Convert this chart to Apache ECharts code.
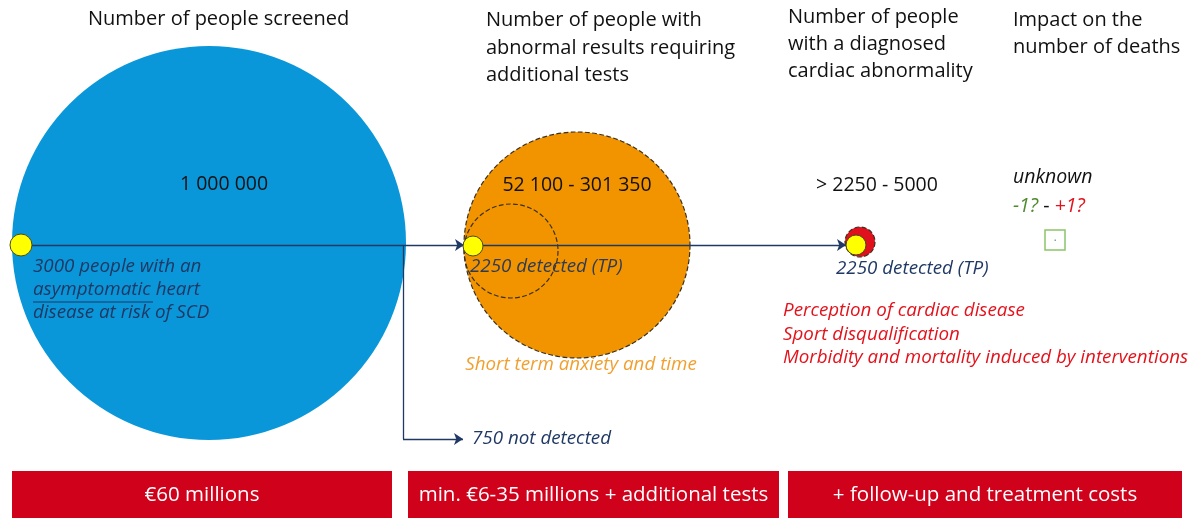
<!DOCTYPE html>
<html>
<head>
<meta charset="utf-8">
<script src="https://cdn.jsdelivr.net/npm/echarts@6/dist/echarts.min.js"></script>
<style>
  html, body { margin: 0; padding: 0; background: #fff; }
  #chart { width: 1204px; height: 518px; }
</style>
</head>
<body>
<div id="chart"></div>
<script>
// layout space: hidden axes mapped 1:1 onto the page
const xMax = 1204
const yMax = 518

// population circles (centre and diameter in layout units)
const circleNames = ['screened', 'abnormal results', 'true positives', 'diagnosed']
const circleX = [209, 577, 511, 860]
const circleY = [243, 245, 251, 242]
const circleDiam = [394, 226, 94, 30]
const circleColor = ['#0A97D9', '#F29400', 'rgba(0,0,0,0)', '#E0101C']
const circleBorder = [null, 'dashed', 'dashed', 'dashed']

// people with asymptomatic disease (yellow markers)
const dotX = [21, 473, 856]
const dotY = [245, 246, 245]
const dotDiam = [22, 20, 20]

// flow arrows: [path, has arrow head]
const arrowPaths = [
  [[21, 245], [464, 245]],
  [[473, 245], [846, 245]],
  [[403, 245], [403, 439]],
  [[403, 439], [463, 439]]
]
const arrowHeads = [true, true, false, true]

// costs
const costLabels = ['€60 millions', 'min. €6-35 millions + additional tests', '+ follow-up and treatment costs']
const costStart = [12, 408, 788]
const costEnd = [392, 779, 1182]
const costTop = 471

const stageCounts = ['1 000 000', '52 100 - 301 350', '> 2250 - 5000']

const font = '"Open Sans", Lato, sans-serif'
const navy = '#1F3864'
const red = '#E3121B'

const el = document.getElementById('chart')
const chart = echarts.init(el)

function txt(x, y, text, style) {
  return {
    type: 'text', x, y, z: 100,
    style: Object.assign({ text, fontFamily: font, fontSize: 20, fill: '#111', textVerticalAlign: 'middle' }, style)
  }
}
const it = (extra) => Object.assign({ fontStyle: 'italic', fill: navy, fontSize: 18.8 }, extra)

const graphics = [
  txt(88, 19, 'Number of people screened'),
  txt(486, 20, 'Number of people with'),
  txt(486, 48, 'abnormal results requiring'),
  txt(486, 75, 'additional tests'),
  txt(788, 17, 'Number of people'),
  txt(788, 44, 'with a diagnosed'),
  txt(788, 71, 'cardiac abnormality'),
  txt(1013, 20, 'Impact on the'),
  txt(1013, 47, 'number of deaths'),
  txt(224, 184, stageCounts[0], { textAlign: 'center', fontSize: 19.5 }),
  txt(577, 185, stageCounts[1], { textAlign: 'center', fontSize: 19.5 }),
  txt(877, 185, stageCounts[2], { textAlign: 'center', fontSize: 19.5 }),
  txt(1013, 177, 'unknown', { fontStyle: 'italic', fontSize: 19.5 }),
  {
    type: 'text', x: 1013, y: 206, z: 100,
    style: {
      text: '{g|-1?} {k|-} {r|+1?}', fontFamily: font, fontSize: 19.5, textVerticalAlign: 'middle',
      rich: {
        g: { fill: '#4F8A2E', fontStyle: 'italic', fontFamily: font, fontSize: 19.5 },
        k: { fill: '#111', fontFamily: font, fontSize: 19.5 },
        r: { fill: red, fontStyle: 'italic', fontFamily: font, fontSize: 19.5 }
      }
    }
  },
  { type: 'rect', shape: { x: 1045, y: 230, width: 20, height: 20 }, z: 100,
    style: { fill: '#fff', stroke: '#8CC56A', lineWidth: 1.5 } },
  { type: 'rect', shape: { x: 1054.5, y: 239.5, width: 1.5, height: 1.5 }, z: 100, style: { fill: '#7A9' } },
  txt(33, 267, '3000 people with an', it()),
  txt(33, 290, 'asymptomatic heart', it()),
  txt(33, 313, 'disease at risk of SCD', it()),
  { type: 'line', shape: { x1: 33, y1: 302, x2: 153, y2: 302 }, z: 100, style: { stroke: navy, lineWidth: 1.2 } },
  txt(470, 267, '2250 detected (TP)', it({ fill: '#2E3B55' })),
  txt(836, 269, '2250 detected (TP)', it()),
  txt(581, 365, 'Short term anxiety and time', it({ fill: '#F0A030', textAlign: 'center' })),
  txt(472, 439, '750 not detected', it()),
  txt(783, 311, 'Perception of cardiac disease', it({ fill: red })),
  txt(783, 335, 'Sport disqualification', it({ fill: red })),
  txt(783, 358, 'Morbidity and mortality induced by interventions', it({ fill: red }))
]

const circleData = circleNames.map((n, i) => ({
  name: n,
  value: [circleX[i], circleY[i]],
  symbolSize: circleDiam[i],
  itemStyle: {
    color: circleColor[i],
    opacity: 1,
    borderColor: circleBorder[i] ? '#3A3020' : 'transparent',
    borderWidth: circleBorder[i] ? 1.2 : 0,
    borderType: circleBorder[i] || 'solid'
  }
}))

const dotData = dotX.map((x, i) => ({ value: [x, dotY[i]], symbolSize: dotDiam[i] }))

chart.setOption({
  animation: false,
  grid: { left: 0, right: 0, top: 0, bottom: 0 },
  xAxis: { type: 'value', min: 0, max: xMax, show: false },
  yAxis: { type: 'value', min: 0, max: yMax, inverse: true, show: false },
  series: [
    {
      type: 'scatter', z: 1, silent: true,
      symbol: 'circle',
      data: circleData
    },
    {
      type: 'custom', z: 2, silent: true,
      data: costLabels.map((l, i) => [costStart[i], costEnd[i]]),
      renderItem: (params, api) => {
        const p1 = api.coord([api.value(0), costTop])
        const p2 = api.coord([api.value(1), yMax])
        return {
          type: 'group',
          children: [
            { type: 'rect', shape: { x: p1[0], y: p1[1], width: p2[0] - p1[0], height: p2[1] - p1[1] },
              style: { fill: '#D0021B' } },
            { type: 'text', x: (p1[0] + p2[0]) / 2, y: (p1[1] + p2[1]) / 2 + 1,
              style: { text: costLabels[params.dataIndex], fill: '#fff', fontFamily: font, fontSize: 20.5,
                align: 'center', verticalAlign: 'middle' } }
          ]
        }
      }
    },
    {
      type: 'lines', coordinateSystem: 'cartesian2d', z: 3, silent: true,
      symbolSize: 9,
      lineStyle: { color: navy, width: 1.3, opacity: 1, curveness: 0 },
      data: arrowPaths.map((p, i) => ({ coords: p, symbol: ['none', arrowHeads[i] ? 'arrow' : 'none'] }))
    },
    {
      type: 'scatter', z: 4, silent: true,
      symbol: 'circle',
      itemStyle: { color: '#FFFF00', opacity: 1, borderColor: '#4A4A20', borderWidth: 1 },
      data: dotData
    }
  ],
  graphic: graphics
})
</script>
</body>
</html>
